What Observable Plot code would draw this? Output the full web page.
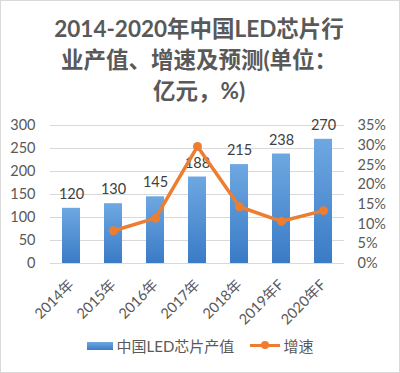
<!DOCTYPE html>
<html><head><meta charset="utf-8">
<script src="https://cdn.jsdelivr.net/npm/d3@7"></script>
<script src="https://cdn.jsdelivr.net/npm/@observablehq/plot@0.6"></script>
<style>
body{margin:0;background:#fff;}
#wrap{position:relative;width:398px;height:371px;border:1px solid #d9d9d9;overflow:hidden;font-family:Lato,"Noto Sans CJK SC",sans-serif;}
#title{position:absolute;left:0;top:12px;width:396px;text-align:center;font-weight:bold;font-size:22.5px;line-height:31px;color:#595959;}
#chart{position:absolute;left:0;top:105px;}
#legend{position:absolute;left:0;top:334px;width:398px;display:flex;justify-content:center;align-items:center;font-size:15px;color:#595959;}
.sw{display:inline-block;width:26px;height:8px;background:linear-gradient(#6ea6e0,#3b7dc8);margin-right:4px;}
.ln{display:inline-block;position:relative;width:30px;height:3px;background:#ed7d31;margin:0 3px 0 16px;}
.ln::after{content:"";position:absolute;left:11px;top:-3px;width:8px;height:8px;border-radius:50%;background:#ed7d31;}
</style></head>
<body>
<div id="wrap">
<div id="title">2014-2020年中国LED芯片行<br>业产值、增速及预测(单位：<br>亿元，%)</div>
<div id="chart"></div>
<div id="legend"><span class="sw"></span><span>中国LED芯片产值</span><span class="ln"></span><span>增速</span></div>
</div>
<script>
const years = ["2014年","2015年","2016年","2017年","2018年","2019年F","2020年F"];
const output = [120,130,145,188,215,238,270];
const growthYears = ["2015年","2016年","2017年","2018年","2019年F","2020年F"];
const growth = [8.3,11.5,29.7,14.4,10.7,13.4];
const leftTicks = [0,50,100,150,200,250,300];
const rightTicks = [0,5,10,15,20,25,30,35];

const bars = years.map((y,i)=>({year:y,value:output[i]}));
const PMAX = 35, VMAX = 300;
const line = growthYears.map((y,i)=>({year:y,g:growth[i]*VMAX/PMAX}));

const chart = Plot.plot({
  width: 398, height: 228,
  marginLeft: 49, marginRight: 55, marginTop: 19, marginBottom: 71,
  style:{fontFamily:'Lato,"Noto Sans CJK SC",sans-serif', fontSize:"14px", color:"#595959", background:"transparent"},
  x:{domain:years, padding:0, label:null},
  y:{domain:[0,VMAX], label:null},
  marks:[
    Plot.gridY(leftTicks,{stroke:"#d9d9d9", strokeOpacity:1}),
    Plot.barY(bars,{x:"year", y:"value", fill:"url(#bargrad)", insetLeft:12, insetRight:12}),
    Plot.text(bars,{x:"year", y:"value", text:d=>String(d.value), dy:-14, fill:"#404040", fontSize:14.5}),
    Plot.line(line,{x:"year", y:"g", stroke:"#ed7d31", strokeWidth:3.5, curve:"linear"}),
    Plot.dot(line,{x:"year", y:"g", fill:"#ed7d31", r:4.5}),
    Plot.axisY(leftTicks,{anchor:"left", tickSize:0, tickPadding:15, fontSize:14.5, color:"#595959"}),
    Plot.axisY(rightTicks.map(p=>p*VMAX/PMAX),{anchor:"right", tickSize:0, tickPadding:13, textAnchor:"start", tickFormat:d=>Math.round(d*PMAX/VMAX)+"%", fontSize:14.5, color:"#595959"}),
    Plot.axisX({tickSize:0, tickPadding:19, tickRotate:-45, fontSize:14.5, color:"#595959"}),
    Plot.ruleY([0],{stroke:"#d9d9d9"})
  ]
});
const ns="http://www.w3.org/2000/svg";
const defs=document.createElementNS(ns,"defs");
defs.innerHTML='<linearGradient id="bargrad" x1="0" y1="0" x2="0" y2="1"><stop offset="0" stop-color="#6ea8e2"/><stop offset="1" stop-color="#3a7bc6"/></linearGradient>';
chart.insertBefore(defs, chart.firstChild);
document.getElementById("chart").appendChild(chart);
</script>
</body></html>
